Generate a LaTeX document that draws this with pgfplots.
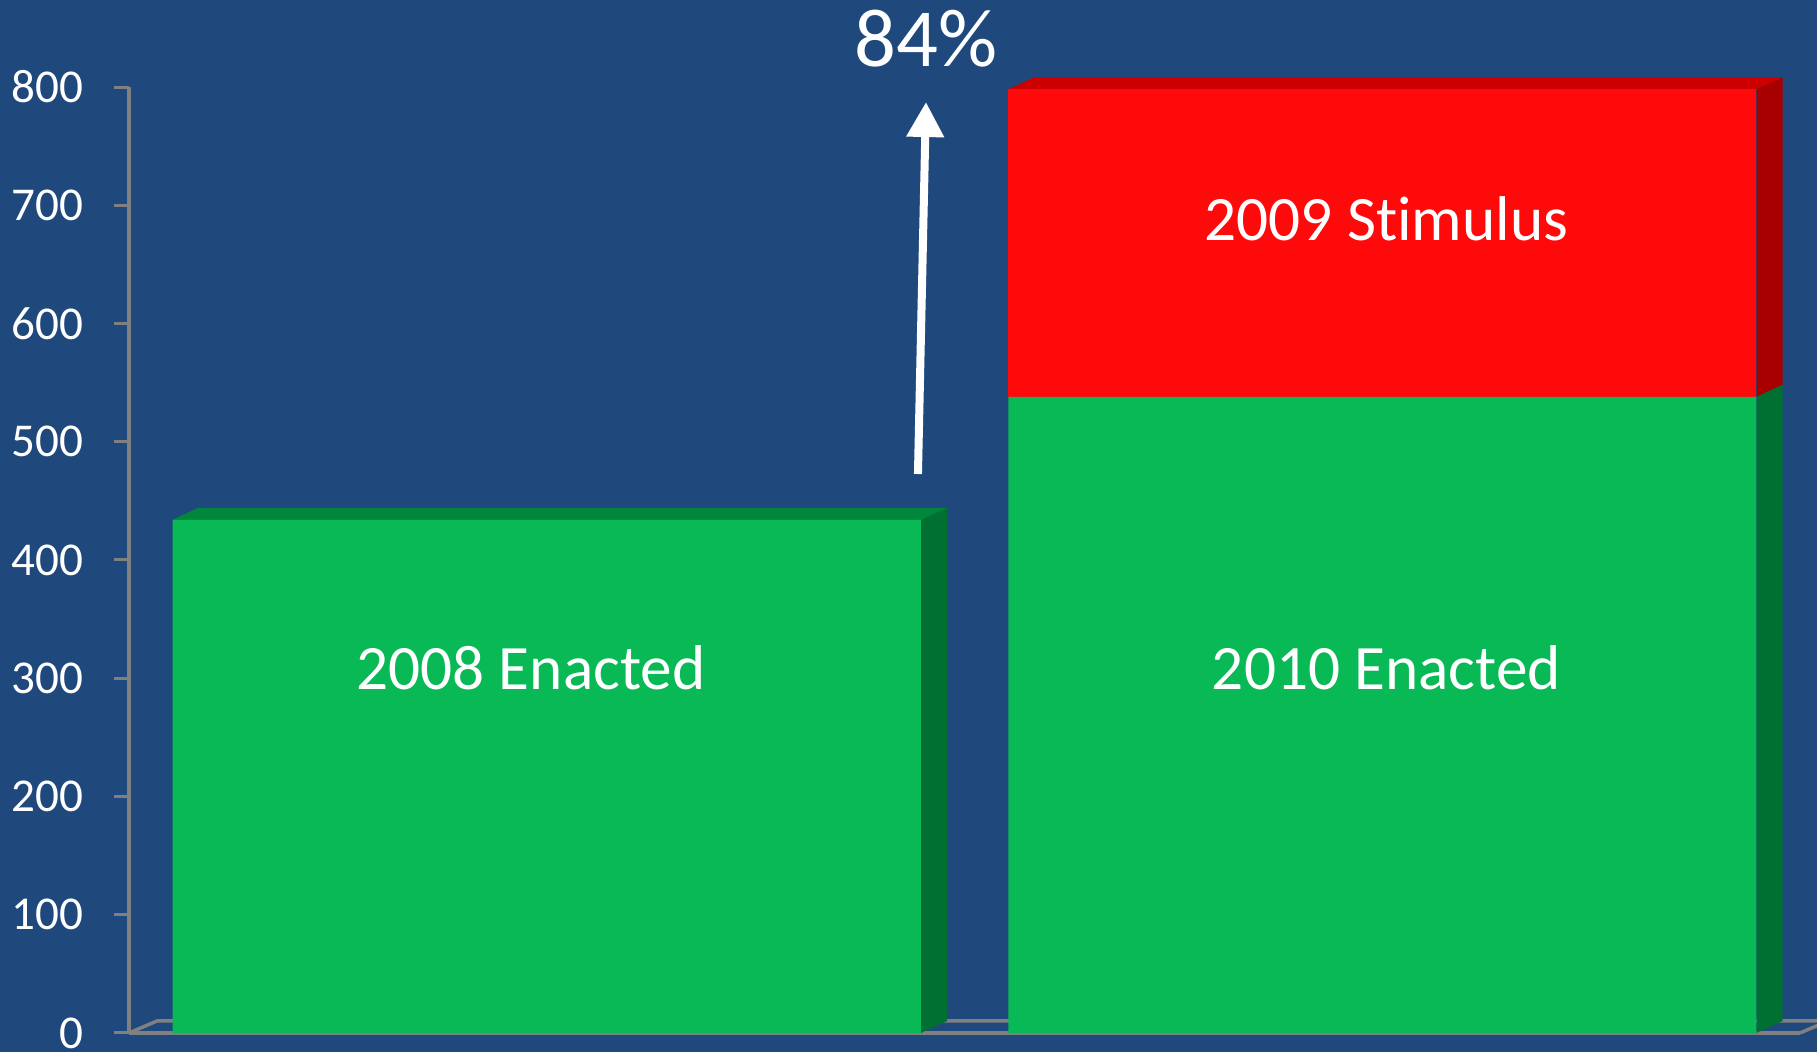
\documentclass[border=0pt]{standalone}
\usepackage{pgfplots}
\pgfplotsset{compat=1.18}
\usepackage{fontspec}
\setmainfont{Carlito}[Ligatures=NoCommon]
\usetikzlibrary{arrows.meta}
\definecolor{bgblue}{RGB}{31,73,125}
\definecolor{barG}{RGB}{8,185,85}
\definecolor{barGside}{RGB}{0,112,50}
\definecolor{barGtop}{RGB}{0,135,60}
\definecolor{barR}{RGB}{254,10,10}
\definecolor{barRside}{RGB}{168,0,0}
\definecolor{barRtop}{RGB}{204,0,0}
\definecolor{axgray}{RGB}{128,128,128}
\begin{document}
\begin{tikzpicture}
\useasboundingbox (0,0) rectangle (18.17cm,10.52cm);
\clip (0,0) rectangle (18.17cm,10.52cm);
\fill[bgblue] (0,0) rectangle (18.17cm,10.52cm);
% floor edges
\draw[axgray, line width=0.35mm] (1.29cm,0.19cm) -- (1.57cm,0.31cm) -- (18.45cm,0.31cm);
\draw[axgray, line width=0.35mm] (18.00cm,0.19cm) -- (18.28cm,0.31cm);
\begin{axis}[
  at={(1.29cm,0.19cm)}, anchor=south west,
  scale only axis, width=16.71cm, height=9.46cm,
  xmin=-0.5, xmax=1.5, ymin=0, ymax=800,
  clip=false,
  axis lines*=left,
  axis line style={axgray, line width=0.35mm, -},
  xtick=\empty,
  ytick={0,100,...,800},
  tick align=outside,
  major tick length=1.5mm,
  tick style={axgray, line width=0.3mm},
  yticklabel style={font=\fontsize{13.4}{16}\selectfont, text=white, anchor=east, inner xsep=0pt, xshift=-3.0mm},
  /pgf/number format/assume math mode=true,
  ybar stacked, bar width=7.48cm,
]
\addplot[fill=barG, draw=none] coordinates {(0,434) (1,538)};
\addplot[fill=barR, draw=none] coordinates {(0,0) (1,260)};
% 3D faces, left bar
\fill[barGtop] (axis cs:-0.448,434) -- (axis cs:0.448,434) -- ([shift={(0.26cm,0.12cm)}]axis cs:0.448,434) -- ([shift={(0.26cm,0.12cm)}]axis cs:-0.448,434) -- cycle;
\fill[barGside] (axis cs:0.448,0) -- (axis cs:0.448,434) -- ([shift={(0.26cm,0.12cm)}]axis cs:0.448,434) -- ([shift={(0.26cm,0.12cm)}]axis cs:0.448,0) -- cycle;
% 3D faces, right bar
\fill[barGside] (axis cs:1.448,0) -- (axis cs:1.448,538) -- ([shift={(0.26cm,0.12cm)}]axis cs:1.448,538) -- ([shift={(0.26cm,0.12cm)}]axis cs:1.448,0) -- cycle;
\fill[barRside] (axis cs:1.448,538) -- (axis cs:1.448,798) -- ([shift={(0.26cm,0.12cm)}]axis cs:1.448,798) -- ([shift={(0.26cm,0.12cm)}]axis cs:1.448,538) -- cycle;
\fill[barRtop] (axis cs:0.552,798) -- (axis cs:1.448,798) -- ([shift={(0.26cm,0.12cm)}]axis cs:1.448,798) -- ([shift={(0.26cm,0.12cm)}]axis cs:0.552,798) -- cycle;
% label anchors
\coordinate (lA) at (axis cs:-0.019,290.4);
\coordinate (lB) at (axis cs:1.005,290.4);
\coordinate (lC) at (axis cs:1.005,670.2);
% arrow and percentage
\draw[white, line width=0.8mm, -{Triangle[width=3.6mm,length=3.5mm]}] (axis cs:0.4443,472.7) -- (axis cs:0.4539,787.3);
\node[anchor=base, text=white, font=\fontsize{23.5}{27}\selectfont, inner sep=0pt] at (axis cs:0.4539,817) {84\%};
\end{axis}
\node[anchor=base, text=white, font=\fontsize{18}{21}\selectfont, inner sep=0pt] at (lA) {2008 Enacted};
\node[anchor=base, text=white, font=\fontsize{18}{21}\selectfont, inner sep=0pt] at (lB) {2010 Enacted};
\node[anchor=base, text=white, font=\fontsize{18}{21}\selectfont, inner sep=0pt] at (lC) {2009 Stimulus};
\end{tikzpicture}
\end{document}
